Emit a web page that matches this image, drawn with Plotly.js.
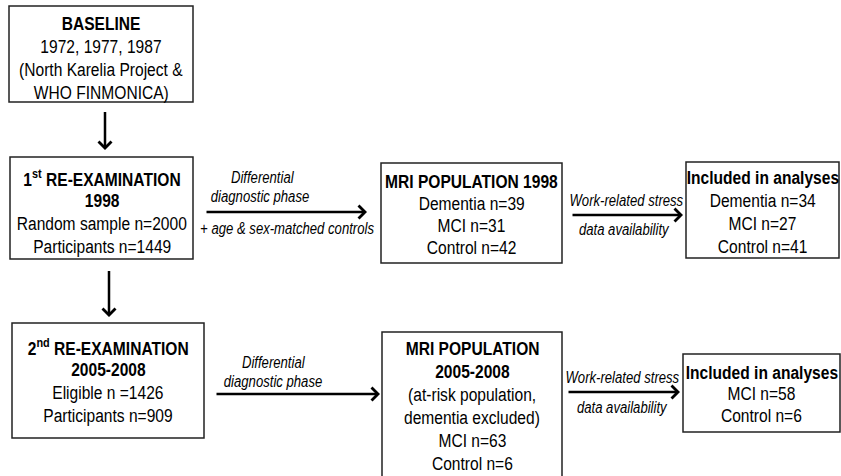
<!DOCTYPE html>
<html>
<head>
<meta charset="utf-8">
<script src="https://cdn.plot.ly/plotly-3.0.1.min.js"></script>
<style>html,body{margin:0;padding:0;background:#fff;}#chart{width:841px;height:476px;}</style>
</head>
<body>
<div id="chart"></div>
<script>
// ---- content (text of each box) ----
const baselineTitle = ["BASELINE"];
const baselineLines = ["1972, 1977, 1987", "(North Karelia Project &", "WHO FINMONICA)"];
const reexam1Title = ["1<sup>st</sup> RE-EXAMINATION", "1998"];
const reexam1Lines = ["Random sample n=2000", "Participants n=1449"];
const mri1998Title = ["MRI POPULATION 1998"];
const mri1998Lines = ["Dementia n=39", "MCI n=31", "Control n=42"];
const incl1998Title = ["Included in analyses"];
const incl1998Lines = ["Dementia n=34", "MCI n=27", "Control n=41"];
const reexam2Title = ["2<sup>nd</sup> RE-EXAMINATION", "2005-2008"];
const reexam2Lines = ["Eligible n =1426", "Participants n=909"];
const mri2005Title = ["MRI POPULATION", "2005-2008"];
const mri2005Lines = ["(at-risk population,", "dementia excluded)", "MCI n=63", "Control n=6"];
const incl2005Title = ["Included in analyses"];
const incl2005Lines = ["MCI n=58", "Control n=6"];
const arrowLabelDiff = ["Differential", "diagnostic phase"];
const arrowLabelControls = ["+ age & sex-matched controls"];
const arrowLabelStress = ["Work-related stress", "data availability"];

// ---- layout geometry ----
const FONT = "'Liberation Sans', Arial, sans-serif";
const NARROW = 0.82;   // horizontal condensing (Arial Narrow look)
const BOXFONT = 19;
const LABELFONT = 16;
const boxes = [
  {x0: 9,   x1: 193, y0: 6,   y1: 102, title: baselineTitle, lines: baselineLines, first: 23,  step: 23},
  {x0: 10,  x1: 193, y0: 157, y1: 259, title: reexam1Title,  lines: reexam1Lines,  first: 178, step: 22.7},
  {x0: 381, x1: 562, y0: 163, y1: 263, title: mri1998Title,  lines: mri1998Lines,  first: 181, step: 22.3},
  {x0: 686, x1: 839, y0: 162, y1: 258, title: incl1998Title, lines: incl1998Lines, first: 177, step: 23},
  {x0: 12,  x1: 204, y0: 323, y1: 438, title: reexam2Title,  lines: reexam2Lines,  first: 347, step: 22.7},
  {x0: 382, x1: 562, y0: 332, y1: 480, title: mri2005Title,  lines: mri2005Lines,  first: 348, step: 23},
  {x0: 683, x1: 840, y0: 354, y1: 432, title: incl2005Title, lines: incl2005Lines, first: 372, step: 21.5}
];

const shapes = [];
const annotations = [];

function txt(x, y, t, size) {
  annotations.push({
    x: x, y: y, xref: 'x', yref: 'y', text: t, showarrow: false,
    xanchor: 'center', yanchor: 'middle',
    font: {family: FONT, size: size, color: '#000'}
  });
}

boxes.forEach(b => {
  shapes.push({type: 'rect', xref: 'x', yref: 'y', x0: b.x0, x1: b.x1, y0: b.y0, y1: b.y1,
    line: {color: '#222', width: 1.5}, fillcolor: 'rgba(0,0,0,0)'});
  const cx = (b.x0 + b.x1) / 2;
  const all = b.title.map(t => '<b>' + t + '</b>').concat(b.lines);
  all.forEach((t, i) => txt(cx, b.first + i * b.step, t, BOXFONT));
});

function arrow(x0, y0, x1, y1) {
  annotations.push({x: x1, y: y1, ax: x0, ay: y0, xref: 'x', yref: 'y', axref: 'x', ayref: 'y',
    text: ' ', showarrow: true, arrowhead: 4, arrowsize: 1, arrowwidth: 2.5, arrowcolor: '#000',
    standoff: 0, startstandoff: 0, font: {size: 1}});
}
// vertical arrows
arrow(105, 110, 105, 150);
arrow(109, 269, 109, 317);
// horizontal arrows
arrow(205, 212, 367, 212);
arrow(571, 215, 683, 215);
arrow(215, 394, 380, 394);
arrow(567, 392, 680, 392);

// arrow labels
const it = s => '<i>' + s + '</i>';
txt(262, 177, it(arrowLabelDiff[0]), LABELFONT);
txt(260, 196, it(arrowLabelDiff[1]), LABELFONT);
txt(287, 228, it(arrowLabelControls[0]), LABELFONT);
txt(626, 200, it(arrowLabelStress[0]), LABELFONT);
txt(624, 229, it(arrowLabelStress[1]), LABELFONT);
txt(273, 362, it(arrowLabelDiff[0]), LABELFONT);
txt(273, 381, it(arrowLabelDiff[1]), LABELFONT);
txt(622, 377, it(arrowLabelStress[0]), LABELFONT);
txt(622, 407, it(arrowLabelStress[1]), LABELFONT);

const layout = {
  width: 841, height: 476,
  margin: {l: 0, r: 0, t: 0, b: 0},
  paper_bgcolor: '#fff', plot_bgcolor: '#fff',
  showlegend: false,
  xaxis: {range: [0, 841], visible: false, fixedrange: true},
  yaxis: {range: [476, 0], visible: false, fixedrange: true},
  shapes: shapes,
  annotations: annotations
};

Plotly.newPlot('chart', [{x: [], y: [], type: 'scatter', mode: 'markers', hoverinfo: 'skip'}], layout,
  {staticPlot: true, displayModeBar: false}).then(() => {
  document.querySelectorAll('#chart text.annotation-text').forEach(el => {
    if (!el.textContent.trim()) return;
    const bb = el.getBBox();
    const cx = bb.x + bb.width / 2;
    el.setAttribute('transform', 'translate(' + cx + ',0) scale(' + NARROW + ',1) translate(' + (-cx) + ',0)');
  });
});
</script>
</body>
</html>
